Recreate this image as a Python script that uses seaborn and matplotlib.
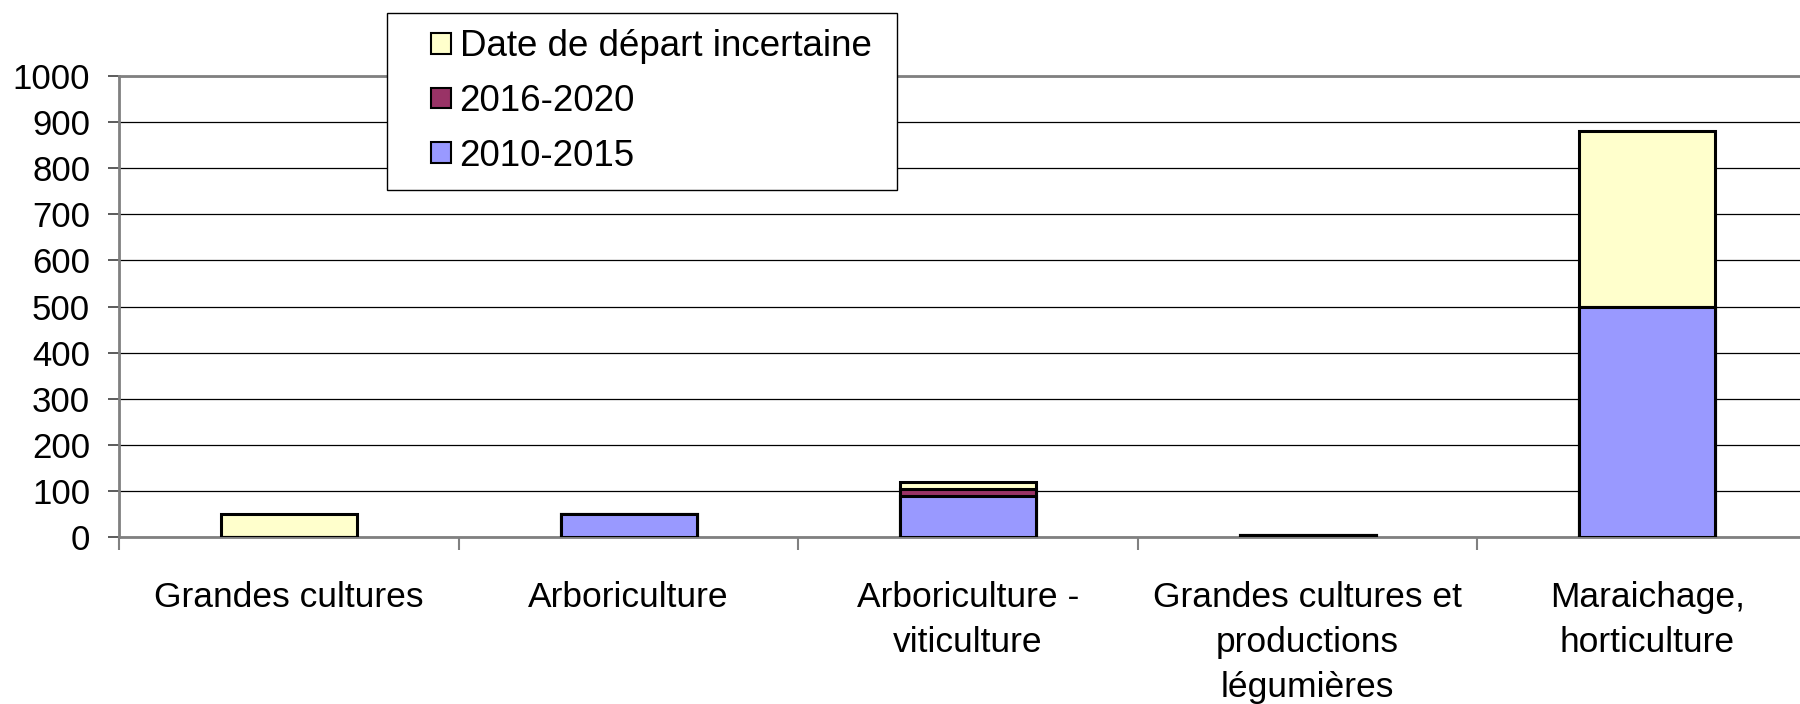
#!/usr/bin/env python3

import matplotlib
matplotlib.use("Agg")
import matplotlib.pyplot as plt
from matplotlib.legend_handler import HandlerPatch
from matplotlib.patches import Rectangle
import numpy as np
import pandas as pd
import seaborn as sns

sns.set_style("white")
plt.rcParams["font.family"] = ["Liberation Sans", "DejaVu Sans"]
plt.rcParams["text.color"] = "black"
plt.rcParams["xtick.color"] = "black"
plt.rcParams["ytick.color"] = "black"

# Data
categories = [
    "Grandes cultures",
    "Arboriculture",
    "Arboriculture -\nviticulture",
    "Grandes cultures et\nproductions\nlégumières",
    "Maraichage,\nhorticulture",
]
v_2010_2015 = [0, 50, 90, 5, 500]
v_2016_2020 = [0, 0, 15, 0, 0]
v_incertaine = [50, 0, 15, 0, 380]

series = ["Date de départ incertaine", "2016-2020", "2010-2015"]
colors = {"Date de départ incertaine": "#FFFFCC",
          "2016-2020": "#993366",
          "2010-2015": "#9999FF"}

data = pd.DataFrame({
    "cat": categories,
    "2010-2015": v_2010_2015,
    "2016-2020": v_2016_2020,
    "Date de départ incertaine": v_incertaine,
})
# cumulative heights so the bars can be stacked by overlaying
data["cum_2010"] = data["2010-2015"]
data["cum_2016"] = data["cum_2010"] + data["2016-2020"]
data["cum_all"] = data["cum_2016"] + data["Date de départ incertaine"]
cum_col = {"Date de départ incertaine": "cum_all",
           "2016-2020": "cum_2016",
           "2010-2015": "cum_2010"}

fig = plt.figure(figsize=(18, 7.04), dpi=100)
ax = fig.add_axes([119.3 / 1800, 167 / 704, 1697.7 / 1800, 461 / 704])

# tallest first, then overlay the lower parts
for name in series:
    sns.barplot(
        x="cat", y=cum_col[name], data=data, ax=ax,
        color=colors[name], saturation=1, width=0.4,
        edgecolor="black", linewidth=2.2, zorder=3,
    )

ax.set(xlim=(-0.5, 4.5), ylim=(0, 1000), xlabel="", ylabel="")
ax.set_yticks(np.arange(0, 1001, 100))
ax.yaxis.grid(True, color="black", linewidth=0.9)
ax.set_axisbelow(True)

# category boundaries as major ticks, labels on minor ticks at centres
ax.set_xticks(np.arange(-0.5, 4.5, 1))
ax.set_xticklabels([])
ax.set_xticks(np.arange(0, 5), minor=True)
ax.set_xticklabels(categories, minor=True, fontsize=25.5, linespacing=1.45)
ax.tick_params(axis="x", which="major", length=9, width=1.5,
               color="#808080", bottom=True)
ax.tick_params(axis="x", which="minor", length=0, pad=32)
ax.tick_params(axis="y", length=8, width=1.2, color="#404040",
               left=True, labelsize=25, pad=13)

for side in ["left", "bottom", "top"]:
    ax.spines[side].set_color("#808080")
    ax.spines[side].set_linewidth(2)
ax.spines["right"].set_visible(False)


# small square marker sitting at the right of the handle box
def square(legend, orig_handle, xdescent, ydescent, width, height, fontsize):
    s = 15
    return Rectangle((-xdescent + width - s, -ydescent + (height - s) / 2), s, s)


handles = [Rectangle((0, 0), 1, 1, facecolor=colors[n], edgecolor="black",
                     linewidth=1.5) for n in series]
leg = fig.legend(
    handles=handles, labels=series,
    loc="upper left",
    bbox_to_anchor=(387 / 1800, 1 - 190 / 704, 510 / 1800, 177.3 / 704),
    mode="expand",
    borderaxespad=0, fontsize=26.5, frameon=True, fancybox=False,
    framealpha=1, handlelength=1.3, handletextpad=0.22,
    labelspacing=0.535, borderpad=0.45,
    handler_map={Rectangle: HandlerPatch(patch_func=square)},
)
leg.get_frame().set_edgecolor("black")
leg.get_frame().set_linewidth(1)

fig.savefig("out.png", dpi=100)
